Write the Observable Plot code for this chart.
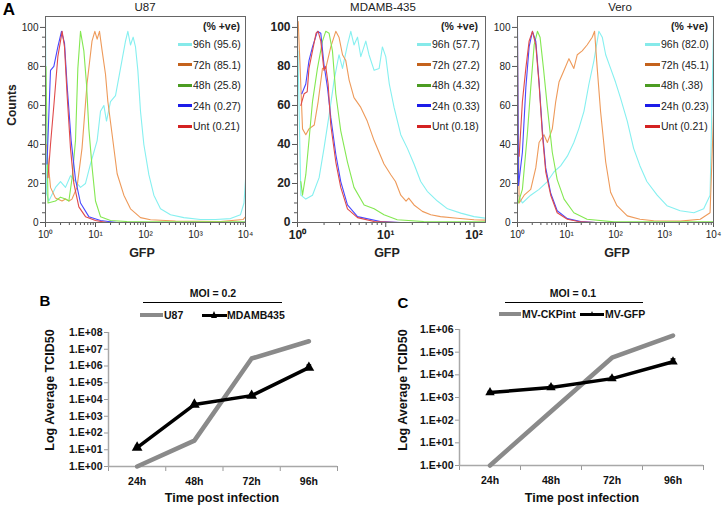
<!DOCTYPE html>
<html><head><meta charset="utf-8">
<script src="https://cdn.jsdelivr.net/npm/d3@7"></script>
<script src="https://cdn.jsdelivr.net/npm/@observablehq/plot@0.6"></script>
<style>
body{margin:0;background:#fff;font-family:"Liberation Sans",Arial,Helvetica,sans-serif;}
#root{position:relative;width:723px;height:506px;overflow:hidden;background:#fff;}
.abs{position:absolute;white-space:nowrap;line-height:1;}
</style></head><body><div id="root"></div><script>
// ---------- Panel A data: [log10(GFP), counts] ----------
const u87_unt = [[0.05,23],[0.1,40],[0.167,60],[0.247,85],[0.333,98],[0.38,90],[0.433,65],[0.5,38],[0.567,20],[0.667,8],[0.8,3],[1.0,1],[1.23,0],[4,0]];
const u87_24h = [[0.03,30],[0.1,78],[0.167,80],[0.247,90],[0.32,98],[0.38,92],[0.433,70],[0.513,42],[0.6,22],[0.7,10],[0.867,3],[1.1,1],[1.43,0],[4,0]];
const u87_48h = [[0.01,80],[0.05,10],[0.2,11],[0.3,13],[0.4,12],[0.467,11],[0.533,23],[0.6,42],[0.647,79],[0.7,98],[0.767,88],[0.82,71],[0.867,48],[0.933,28],[1.0,11],[1.1,3],[1.3,1],[1.63,0.5],[4,0.3]];
const u87_72h = [[0.02,40],[0.1,18],[0.2,12.5],[0.33,11],[0.4,12],[0.47,11],[0.53,12],[0.63,18],[0.73,38],[0.83,71],[0.93,93],[0.987,98],[1.033,94],[1.08,98],[1.133,88],[1.2,76],[1.247,62],[1.333,45],[1.433,25],[1.567,14],[1.7,7],[1.9,2.5],[2.1,1.4],[2.6,0.8],[3.5,0.5],[3.95,1.5],[4,3]];
const u87_96h = [[0,105],[0.02,15],[0.067,11],[0.2,18],[0.3,21],[0.4,18],[0.5,24],[0.6,21],[0.7,18],[0.8,20],[0.9,30],[1.033,42],[1.1,57],[1.167,60],[1.22,52],[1.3,62],[1.4,65],[1.5,79],[1.6,93],[1.647,98],[1.7,91],[1.753,95],[1.8,90],[1.847,78],[1.9,57],[1.967,40],[2.067,24.5],[2.167,14],[2.3,7],[2.5,4],[2.767,2.5],[3.1,1.5],[3.4,1.5],[3.7,2],[3.9,4],[3.97,10],[4,22]];

const md_unt = [[0.038,60],[0.075,66],[0.11,67],[0.13,79],[0.17,88],[0.21,97],[0.234,98],[0.264,93],[0.3,78],[0.32,80],[0.347,71],[0.377,50],[0.434,31],[0.49,18],[0.566,7],[0.68,2.5],[0.87,0.5],[1.13,0],[2.13,0]];
const md_24h = [[0.049,66],[0.094,71],[0.13,83],[0.17,90],[0.226,98],[0.264,97],[0.3,81],[0.34,69],[0.377,54],[0.434,35],[0.49,21],[0.566,9],[0.68,3],[0.94,0.5],[1.17,0],[2.13,0]];
const md_48h = [[0.038,21],[0.057,14],[0.094,24.5],[0.13,42],[0.17,62],[0.226,79],[0.283,93],[0.32,98],[0.358,97],[0.396,88],[0.434,66],[0.49,47],[0.566,31],[0.64,18],[0.755,9],[0.868,7],[0.98,4],[1.13,1.4],[1.43,0.5],[2.13,0.3]];
const md_72h = [[0.008,103],[0.03,79],[0.057,48],[0.094,45],[0.13,48],[0.19,50],[0.234,62],[0.283,79],[0.32,79],[0.377,90],[0.434,98],[0.47,95],[0.51,86],[0.547,83],[0.585,73],[0.64,64],[0.717,59],[0.79,52],[0.868,42],[0.98,30],[1.057,24.5],[1.11,21],[1.17,14],[1.23,11],[1.26,12.5],[1.32,9],[1.415,5.7],[1.51,4],[1.62,3],[1.81,2.2],[2.0,1.4],[2.13,1.2]];
const md_96h = [[0.005,88],[0.038,14],[0.094,12],[0.17,14],[0.245,23],[0.3,38],[0.358,55],[0.415,73],[0.47,86],[0.51,79],[0.566,91],[0.604,98],[0.64,91],[0.68,95],[0.717,85],[0.774,93],[0.81,86],[0.868,78],[0.925,79],[0.962,90],[1.0,85],[1.04,71],[1.094,59],[1.17,45],[1.245,38],[1.32,30],[1.396,21],[1.47,16],[1.585,11],[1.7,7],[1.85,4.8],[2.0,3],[2.13,2.2]];

const ve_unt = [[0.034,34],[0.1,62],[0.17,79],[0.237,93],[0.305,98],[0.373,91],[0.44,71],[0.508,45],[0.576,26],[0.678,14],[0.81,5],[1.017,1.7],[1.29,0.3],[1.6,0],[4,0]];
const ve_24h = [[0,100],[0.02,19],[0.1,36],[0.17,69],[0.237,90],[0.305,98],[0.373,93],[0.44,72],[0.508,47],[0.576,28],[0.678,15],[0.81,6],[1.017,2],[1.29,0.5],[1.6,0],[4,0]];
const ve_48h = [[0.014,10],[0.1,17],[0.2,45],[0.27,69],[0.34,91],[0.407,98],[0.46,95],[0.53,79],[0.61,59],[0.71,36],[0.81,22],[0.95,12],[1.15,5],[1.42,1.7],[1.97,0.3],[4,0.3]];
const ve_72h = [[0,93],[0.034,10],[0.136,14],[0.27,17],[0.373,28],[0.44,41],[0.54,45],[0.61,41],[0.71,48],[0.78,62],[0.847,72],[0.95,78],[1.05,84],[1.15,79],[1.22,86],[1.32,88],[1.42,91],[1.525,95],[1.573,98],[1.627,79],[1.695,57],[1.8,31],[1.9,15.5],[2.03,8.6],[2.24,3.4],[2.5,1.7],[2.78,0.9],[3.32,0.7],[3.73,1.7],[3.93,5],[4,55]];
const ve_96h = [[0.02,14],[0.1,10],[0.27,14],[0.44,17],[0.61,21],[0.746,26],[0.88,29],[1.017,34],[1.15,41],[1.25,48],[1.356,57],[1.458,71],[1.56,83],[1.66,98],[1.73,95],[1.8,86],[1.9,79],[2.0,72],[2.1,64],[2.24,52],[2.37,38],[2.5,29],[2.64,21],[2.85,14],[3.05,8.6],[3.32,6],[3.6,5],[3.8,7],[3.93,14],[4,100]];

const u87Legend = ["96h (95.6)","72h (85.1)","48h (25.8)","24h (0.27)","Unt (0.21)"];
const mdLegend  = ["96h (57.7)","72h (27.2)","48h (4.32)","24h (0.33)","Unt (0.18)"];
const veLegend  = ["96h (82.0)","72h (45.1)","48h (.38)","24h (0.23)","Unt (0.21)"];

// ---------- Panels B and C data ----------
const hours = ["24h","48h","72h","96h"];
const bU87     = [1, 35, 2.8e6, 3e7];
const bMDAMB   = [13.5, 5000, 17000, 8e5];
const bMDAMBLo = [10, 3600, 12500, 6e5];
const bMDAMBHi = [18, 6200, 21000, 1.15e6];
const cCKP     = [1, 240, 57000, 5.4e5];
const cGFP     = [1660, 2750, 6800, 38000];
const cGFPLo   = [1450, 2300, 5600, 31000];
const cGFPHi   = [1850, 3400, 8200, 50000];

// ---------- helpers ----------
const root = document.getElementById("root");
function txt(s, x, y, o = {}) {
  const d = document.createElement("div");
  d.className = "abs";
  d.textContent = s;
  d.style.left = x + "px"; d.style.top = y + "px";
  d.style.fontSize = (o.size || 11) + "px";
  d.style.fontWeight = o.weight || "normal";
  d.style.color = o.color || "#222";
  const a = o.anchor || "middle";
  const tx = a === "middle" ? "-50%" : a === "end" ? "-100%" : "0";
  d.style.transform = `translate(${tx},-50%)` + (o.rotate ? ` rotate(${o.rotate}deg)` : "");
  root.appendChild(d);
}
function rect(x, y, w, h, color) {
  const d = document.createElement("div");
  d.className = "abs";
  Object.assign(d.style, {left: x + "px", top: y + "px", width: w + "px", height: h + "px", background: color});
  root.appendChild(d);
}
function tri(cx, cy, s) {
  const d = document.createElement("div");
  d.className = "abs";
  Object.assign(d.style, {left: (cx - s/2) + "px", top: (cy - s/2 - 1) + "px", width: 0, height: 0,
    borderLeft: (s/2) + "px solid transparent", borderRight: (s/2) + "px solid transparent", borderBottom: s + "px solid #000"});
  root.appendChild(d);
}
function place(svg, left, top) {
  svg.style.position = "absolute"; svg.style.left = left + "px"; svg.style.top = top + "px";
  root.appendChild(svg);
}

const curveColors = ["#86f0f0", "#ee9a5a", "#84e852", "#4848ff", "#e04a4a"];
const legendColors = ["#86eaea", "#c4621c", "#4c9c22", "#1c1ce8", "#d42222"];
const sup = ["⁰","¹","²","³","⁴"];

function histPanel(cfg) {
  const xMax = 10 ** cfg.maxLog;
  const majors = d3.range(0, Math.floor(cfg.maxLog) + 1).map(k => 10 ** k);
  const minors = [];
  for (const m of majors) for (let j = 2; j < 10; j++) if (m * j <= xMax) minors.push(m * j);
  const series = cfg.series;
  return Plot.plot({
    width: cfg.width, height: 262,
    marginLeft: cfg.mL, marginRight: cfg.mR, marginTop: 16, marginBottom: 40,
    x: {type: "log", domain: [1, xMax], label: null},
    y: {domain: [0, 105.6], label: null},
    style: {background: "transparent", fontFamily: "Liberation Sans, Arial, sans-serif", fontSize: cfg.font + "px", fontWeight: cfg.weight, color: "#222"},
    marks: [
      Plot.axisY({ticks: d3.range(0, 101, 5).filter(v => v % 20), tickSize: 3, tickFormat: () => "", stroke: "#555"}),
      Plot.axisY({ticks: d3.range(0, 101, 20), tickSize: 5, tickPadding: 2, stroke: "#555", label: null}),
      Plot.axisX({ticks: minors, tickSize: 3, tickFormat: () => "", stroke: "#555"}),
      Plot.axisX({ticks: majors, tickSize: 5, tickPadding: 3, stroke: "#555", label: null,
                  tickFormat: d => "10" + sup[Math.round(Math.log10(d))]}),
      ...series.map((s, i) => Plot.line(s, {x: d => 10 ** d[0], y: d => d[1], stroke: curveColors[i], strokeWidth: 1.1, clip: true})),
      Plot.frame({stroke: "#666"})
    ]
  });
}

function legendA(labels, lineX, textX, headerRight) {
  txt("(% +ve)", headerRight, 26, {size: 10.5, weight: "bold", anchor: "end"});
  labels.forEach((l, i) => {
    const y = 44 + i * 20.5;
    rect(lineX, y - 1.5, textX - lineX - 1, 3, legendColors[i]);
    txt(l, textX, y, {size: 10.5, anchor: "start"});
  });
}

function growthPanel(cfg) {
  const rowsG = hours.map((h, i) => ({x: i + 0.5, v: cfg.grey[i]}));
  const rowsK = hours.map((h, i) => ({x: i + 0.5, v: cfg.black[i], lo: cfg.lo[i], hi: cfg.hi[i]}));
  const decades = d3.range(0, cfg.maxExp + 1).map(k => 10 ** k);
  return Plot.plot({
    width: cfg.width, height: 206,
    marginLeft: cfg.mL, marginRight: cfg.mR, marginTop: cfg.mT, marginBottom: cfg.mB,
    x: {domain: [0, 4], label: null},
    y: {type: "log", domain: [1, 10 ** cfg.maxExp], label: null},
    style: {background: "transparent", fontFamily: "Liberation Sans, Arial, sans-serif", fontSize: "10.5px", fontWeight: "bold", color: "#111"},
    marks: [
      Plot.axisY({ticks: decades, tickSize: 4, tickPadding: 2, stroke: "#999", label: null,
                  tickFormat: d => "1.E+" + String(Math.round(Math.log10(d))).padStart(2, "0")}),
      Plot.axisX({ticks: [0, 1, 2, 3, 4], tickSize: 5, tickFormat: () => "", stroke: "#999", label: null}),
      Plot.axisX({ticks: [0.5, 1.5, 2.5, 3.5], tickSize: 0, tickPadding: 11, label: null, tickFormat: d => hours[Math.floor(d)]}),
      Plot.ruleX([0], {stroke: "#a8a8a8", strokeWidth: 1.5}),
      Plot.ruleY([1], {stroke: "#a8a8a8", strokeWidth: 1.5}),
      Plot.line(rowsG, {x: "x", y: "v", stroke: "#8a8a8a", strokeWidth: 4.5}),
      Plot.line(rowsK, {x: "x", y: "v", stroke: "#000", strokeWidth: 3.5}),
      Plot.ruleX(rowsK, {x: "x", y1: "lo", y2: "hi", stroke: "#000", strokeWidth: 1.5}),
      Plot.link(rowsK, {x1: d => d.x - 0.04, x2: d => d.x + 0.04, y1: "hi", y2: "hi", stroke: "#000", strokeWidth: 1.5}),
      Plot.dot(rowsK, {x: "x", y: "v", symbol: "triangle", fill: "#000", r: cfg.r})
    ]
  });
}

// ---------- Panel A ----------
place(histPanel({width: 256, mL: 45, mR: 11, maxLog: 4, font: 10, weight: "normal",
  series: [u87_96h, u87_72h, u87_48h, u87_24h, u87_unt]}), 0, 0);
place(histPanel({width: 240, mL: 47, mR: 5, maxLog: 2.13, font: 12, weight: 600,
  series: [md_96h, md_72h, md_48h, md_24h, md_unt]}), 250, 0);
place(histPanel({width: 238, mL: 32, mR: 10, maxLog: 4, font: 10, weight: "normal",
  series: [ve_96h, ve_72h, ve_48h, ve_24h, ve_unt]}), 485, 0);

// ---------- Panels B, C ----------
place(growthPanel({width: 360, mL: 108, mR: 23, mT: 32, mB: 40, maxExp: 8, r: 4,
  grey: bU87, black: bMDAMB, lo: bMDAMBLo, hi: bMDAMBHi}), 0, 300);
place(growthPanel({width: 363, mL: 99, mR: 20, mT: 29, mB: 41, maxExp: 6, r: 3.5,
  grey: cCKP, black: cGFP, lo: cGFPLo, hi: cGFPHi}), 360, 300);

// ---------- Text & legends ----------
txt("A", 9, 9, {size: 17, weight: "bold", color: "#000"});
txt("U87", 145, 8, {size: 11.5});
txt("MDAMB-435", 383, 8, {size: 11.5});
txt("Vero", 620, 8, {size: 11.5});
txt("Counts", 12, 105, {size: 12, weight: "bold", rotate: -90});
txt("GFP", 142, 253, {size: 12.5, weight: "bold"});
txt("GFP", 387, 253, {size: 12.5, weight: "bold"});
txt("GFP", 617, 253, {size: 12.5, weight: "bold"});
legendA(u87Legend, 178, 193, 240);
legendA(mdLegend, 417, 432, 478);
legendA(veLegend, 645, 661, 708);

txt("B", 45, 300, {size: 15, weight: "bold", color: "#000"});
txt("MOI = 0.2", 213, 293, {size: 10.5, weight: "bold", color: "#111"});
rect(143, 301.5, 139, 1, "#000");
rect(140, 313, 23, 4, "#8a8a8a");
txt("U87", 164, 315, {size: 10.5, weight: "bold", anchor: "start", color: "#111"});
rect(202, 313.5, 25, 3, "#000");
tri(214, 315, 7);
txt("MDAMB435", 227, 315, {size: 10.5, weight: "bold", anchor: "start", color: "#111"});
txt("Log Average TCID50", 50, 390, {size: 12.5, weight: "bold", rotate: -90, color: "#111"});
txt("Time post infection", 222, 498, {size: 12.5, weight: "bold", color: "#111"});

txt("C", 403, 302, {size: 15, weight: "bold", color: "#000"});
txt("MOI = 0.1", 573, 293, {size: 10.5, weight: "bold", color: "#111"});
rect(505, 301.5, 138, 1, "#000");
rect(499, 312, 22, 4, "#8a8a8a");
txt("MV-CKPint", 522, 314, {size: 10.5, weight: "bold", anchor: "start", color: "#111"});
rect(580, 312.5, 24, 3, "#000");
tri(592, 314, 5);
txt("MV-GFP", 605, 314, {size: 10.5, weight: "bold", anchor: "start", color: "#111"});
txt("Log Average TCID50", 403, 390, {size: 12.5, weight: "bold", rotate: -90, color: "#111"});
txt("Time post infection", 582, 498, {size: 12.5, weight: "bold", color: "#111"});
</script></body></html>
